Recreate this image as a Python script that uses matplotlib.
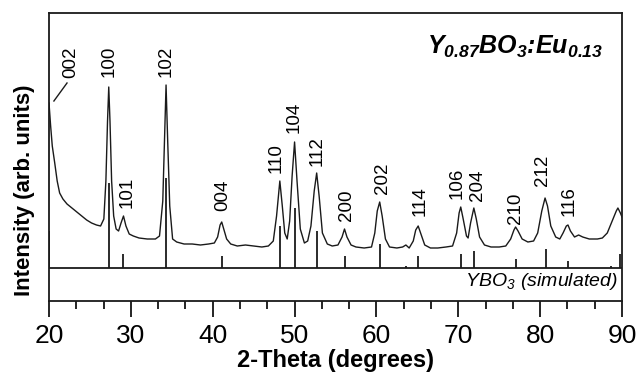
import matplotlib
matplotlib.use("Agg")
import matplotlib.pyplot as plt
from matplotlib.ticker import MultipleLocator
import numpy as np

plt.rcParams['font.family'] = ['Liberation Sans', 'DejaVu Sans']
plt.rcParams['mathtext.fontset'] = 'custom'
plt.rcParams['mathtext.rm'] = 'Liberation Sans:bold:italic'
plt.rcParams['mathtext.it'] = 'Liberation Sans:bold:italic'
plt.rcParams['mathtext.sf'] = 'Liberation Sans:italic'

two_theta = [20.0, 20.2, 20.4, 20.7, 21.0, 21.3, 21.7, 22.2, 22.8, 23.4, 24.0, 24.6,
             25.2, 25.8, 26.3, 26.7, 26.95, 27.15, 27.3, 27.45, 27.65, 27.9, 28.2, 28.5,
             28.8, 29.1, 29.4, 29.8, 30.3, 31.0, 32.0, 33.0, 33.5, 33.9, 34.1, 34.3,
             34.5, 34.75, 35.1, 35.6, 36.5, 37.5, 38.5, 39.5, 40.2, 40.6, 40.9, 41.1,
             41.35, 41.7, 42.2, 43.0, 44.0, 45.0, 46.0, 46.8, 47.4, 47.8, 48.2, 48.5,
             48.8, 49.1, 49.4, 49.7, 50.0, 50.3, 50.7, 51.2, 51.6, 52.0, 52.4, 52.7,
             53.0, 53.4, 54.0, 54.6, 55.3, 55.8, 56.1, 56.4, 56.9, 57.5, 58.5, 59.4,
             59.8, 60.1, 60.4, 60.7, 61.1, 61.6, 62.5, 63.2, 63.6, 64.0, 64.5, 64.8,
             65.1, 65.4, 65.9, 66.6, 67.5, 68.5, 69.3, 69.8, 70.1, 70.3, 70.6, 71.0,
             71.2, 71.5, 71.9, 72.2, 72.6, 73.2, 74.0, 75.0, 75.8, 76.4, 76.8, 77.0,
             77.3, 77.8, 78.5, 79.2, 79.7, 80.2, 80.6, 80.9, 81.3, 81.9, 82.4, 82.8,
             83.2, 83.4, 83.7, 84.2, 84.7, 85.2, 86.0, 87.0, 87.6, 88.2, 88.8, 89.3,
             89.5, 89.8, 90.0]
intensity = [198, 175, 155, 138, 120, 108, 102, 97, 93, 89, 85, 81,
             78, 76, 75, 82, 120, 180, 214, 180, 120, 85, 72, 70,
             78, 85, 75, 67, 65, 63, 62, 62, 65, 100, 160, 216,
             160, 95, 62, 59, 57, 57, 56, 57, 58, 64, 76, 79,
             72, 62, 57, 55, 56, 55, 54, 55, 60, 85, 120, 95,
             68, 62, 80, 125, 159, 120, 72, 58, 60, 75, 110, 128,
             105, 68, 57, 55, 56, 64, 72, 64, 56, 54, 53, 54,
             68, 90, 99, 85, 62, 54, 53, 54, 56, 53, 60, 71,
             75, 68, 56, 53, 53, 54, 55, 68, 88, 94, 82, 65,
             63, 78, 93, 82, 64, 56, 54, 54, 55, 62, 71, 74,
             70, 62, 59, 60, 68, 90, 103, 95, 75, 64, 62, 68,
             75, 76, 70, 64, 66, 64, 62, 62, 63, 68, 80, 90,
             93, 88, 84]

# simulated YBO3 reflections
sim_pos = [20.0, 27.3, 29.1, 34.3, 41.1, 48.2, 50.0, 52.7, 56.1, 60.4,
           63.6, 65.1, 70.3, 71.9, 77.0, 80.7, 83.4, 88.7, 89.7]
sim_int = [37, 85, 14, 90, 12, 42, 60, 37, 12, 24,
           2, 12, 14, 17, 9, 19, 7, 2, 14]

# hkl labels
hkl = ['100', '102', '101', '004', '110', '104', '112', '200', '202',
       '114', '106', '204', '210', '212', '116']
hkl_x = [27.4, 34.3, 29.6, 41.2, 47.8, 49.9, 52.8, 56.4, 60.7,
         65.3, 69.9, 72.4, 77.0, 80.3, 83.5]
hkl_y = [224, 224, 93, 90, 128, 168, 135, 80, 107,
         85, 102, 100, 77, 115, 85]

base = 33  # level of the divider between panels

fig = plt.figure(figsize=(6.39, 3.77), dpi=100)
ax = fig.add_axes([49/639, 1-301/377, (622-49)/639, (301-13)/377])

ax.plot(two_theta, intensity, color='#1a1a1a', lw=1.0)
ax.vlines(sim_pos, base, base + np.array(sim_int), color='#1a1a1a', lw=1.3)
ax.axhline(base, color='#1a1a1a', lw=1.3)

for lab, x, y in zip(hkl, hkl_x, hkl_y):
    ax.text(x, y, lab, rotation=90, ha='center', va='bottom', fontsize=13.5)

# 002 with leader line
ax.plot([20.6, 22.2], [200, 218], color='#1a1a1a', lw=1.0)
ax.text(22.6, 223, '002', rotation=90, ha='center', va='bottom', fontsize=13.5)

ax.text(603/639, 1-47/377, r'$\mathrm{Y_{0.87}BO_3}$:$\mathrm{Eu_{0.13}}$',
        transform=fig.transFigure, ha='right', va='center', fontsize=18,
        fontweight='bold', fontstyle='italic')
ax.text(0.993, 19, r'$\mathsf{YBO_3\ (simulated)}$', transform=ax.get_yaxis_transform(),
        ha='right', va='center', fontsize=14)

ax.set_xlim(20, 90)
ax.set_ylim(0, 288)
ax.set_yticks([])
ax.xaxis.set_major_locator(MultipleLocator(10))
ax.xaxis.set_minor_locator(MultipleLocator(10/3))
ax.tick_params(axis='x', which='major', direction='out', length=11.5, width=1.2,
               labelsize=19, pad=5)
ax.tick_params(axis='x', which='minor', direction='out', length=6, width=1.2)
for s in ax.spines.values():
    s.set_linewidth(1.3)
    s.set_color('#1a1a1a')

ax.set_xlabel('2-Theta (degrees)', fontsize=17, fontweight='bold', labelpad=1)
fig.text(25/639, 1-190/377, 'Intensity (arb. units)', rotation=90, ha='center',
         va='center', fontsize=16, fontweight='bold')

fig.savefig('out.png', dpi=100)
